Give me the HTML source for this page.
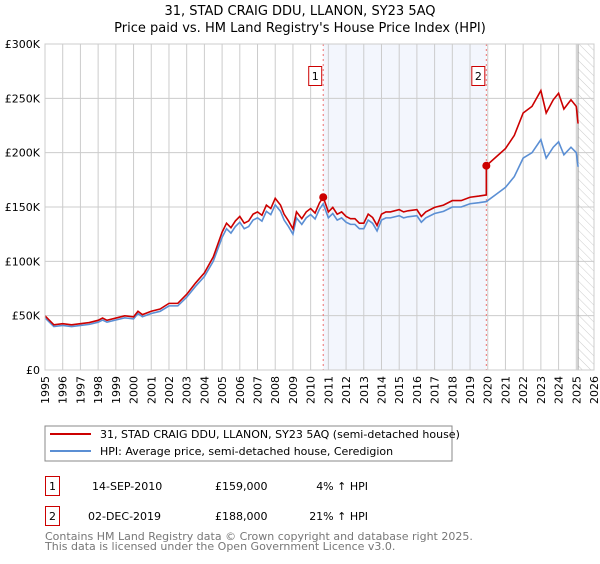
<!DOCTYPE html>
<html><head><meta charset="utf-8"><style>
body{margin:0;background:#fff;font-family:"DejaVu Sans","Liberation Sans",sans-serif;}
svg text{font-family:"DejaVu Sans","Liberation Sans",sans-serif;}
</style></head><body>
<svg id="c" width="600" height="560" viewBox="0 0 600 560" xmlns="http://www.w3.org/2000/svg">
<defs><pattern id="hatch" width="6" height="6" patternUnits="userSpaceOnUse" patternTransform="rotate(-45)"><line x1="0" y1="0" x2="0" y2="6" stroke="#ccc" stroke-width="1"/></pattern></defs>
<text x="300" y="15" text-anchor="middle" font-size="13">31, STAD CRAIG DDU, LLANON, SY23 5AQ</text>
<text x="300" y="32" text-anchor="middle" font-size="13">Price paid vs. HM Land Registry's House Price Index (HPI)</text>
<g id="grid"></g><g id="marks"></g><g id="axes"></g>
<rect x="45" y="426" width="407" height="35" fill="#fff" stroke="#888"/>
<line x1="50" y1="434" x2="91" y2="434" stroke="#cc0000" stroke-width="2"/>
<text x="100" y="438" font-size="11">31, STAD CRAIG DDU, LLANON, SY23 5AQ (semi-detached house)</text>
<line x1="50" y1="451" x2="91" y2="451" stroke="#5b8fd4" stroke-width="2"/>
<text x="100" y="455" font-size="11">HPI: Average price, semi-detached house, Ceredigion</text>
<g font-size="11">
<rect x="45.5" y="476.5" width="14" height="19" fill="none" stroke="#cc0000"/>
<text x="52.5" y="490" text-anchor="middle">1</text>
<text x="92" y="490">14-SEP-2010</text>
<text x="215" y="490">£159,000</text>
<text x="368" y="490" text-anchor="end">4% ↑ HPI</text>
<rect x="45.5" y="506.5" width="14" height="19" fill="none" stroke="#cc0000"/>
<text x="52.5" y="520" text-anchor="middle">2</text>
<text x="88" y="520">02-DEC-2019</text>
<text x="215" y="520">£188,000</text>
<text x="368" y="520" text-anchor="end">21% ↑ HPI</text>
</g>
<text x="45" y="540" font-size="11" fill="#777">Contains HM Land Registry data © Crown copyright and database right 2025.</text>
<text x="45" y="550" font-size="11" fill="#777">This data is licensed under the Open Government Licence v3.0.</text>
</svg>
<script>
const hpiYears=[1995,1995.5,1996,1996.5,1997,1997.5,1998,1998.25,1998.5,1999,1999.5,2000,2000.25,2000.5,2001,2001.5,2002,2002.5,2003,2003.5,2004,2004.5,2005,2005.25,2005.5,2005.75,2006,2006.25,2006.5,2006.75,2007,2007.25,2007.5,2007.75,2008,2008.3,2008.5,2008.75,2009,2009.2,2009.5,2009.75,2010,2010.25,2010.5,2010.71,2011,2011.25,2011.5,2011.75,2012,2012.25,2012.5,2012.75,2013,2013.25,2013.5,2013.75,2014,2014.25,2014.5,2015,2015.25,2015.5,2016,2016.25,2016.5,2017,2017.5,2018,2018.5,2019,2019.5,2019.92,2020.5,2021,2021.5,2022,2022.5,2023,2023.3,2023.7,2024,2024.3,2024.7,2025,2025.1];
const hpiValues=[48,40,41,40,41,42,44,46,44,46,48,47,52,49,52,54,59,59,67,77,86,100,122,130,126,132,136,130,132,138,140,137,146,143,152,146,138,132,125,140,134,140,143,139,148,153,140,144,138,140,136,134,134,130,130,138,135,128,138,140,140,142,140,141,142,136,140,144,146,150,150,153,154,155,162,168,178,195,200,212,195,205,210,198,205,200,187];
const saleYears=[2010.71,2019.92];
const salePrices=[159,188];
const yTicks=[0,50,100,150,200,250,300];
const yTickLabels=["£0","£50K","£100K","£150K","£200K","£250K","£300K"];
const NS="http://www.w3.org/2000/svg";
const X0=45,X1=594,Y0=370,Y1=44;
const xs=y=>X0+(y-1995)*(X1-X0)/31;
const ys=v=>Y0-v*(Y0-Y1)/300;
function mk(tag,attrs,parent){const e=document.createElementNS(NS,tag);for(const k in attrs)e.setAttribute(k,attrs[k]);parent.appendChild(e);return e;}
const grid=document.getElementById('grid'),marks=document.getElementById('marks'),axes=document.getElementById('axes');
const sh=mk('rect',{x:xs(saleYears[0]),y:Y1,width:xs(saleYears[1])-xs(saleYears[0]),height:Y0-Y1,fill:'#eef2fc',opacity:0.7},grid);


const hatch=mk('rect',{x:xs(2025.1),y:Y1,width:X1-xs(2025.1),height:Y0-Y1,fill:'url(#hatch)'},grid);


for(let yr=1995;yr<=2026;yr++){
 const l=mk('line',{x1:xs(yr),x2:xs(yr),y1:Y1,y2:Y0,stroke:'#ccc','stroke-width':1},grid);
 
 
 const t=mk('text',{x:0,y:0,'font-size':11,'text-anchor':'end',transform:`translate(${xs(yr)+4},376) rotate(-90)`},axes);
 t.textContent=yr;
 
 
}
yTicks.forEach((v,i)=>{
 const l=mk('line',{x1:X0,x2:X1,y1:ys(v),y2:ys(v),stroke:'#ccc','stroke-width':1},grid);
 
 
 const t=mk('text',{x:40,y:ys(v)+4,'font-size':11,'text-anchor':'end'},axes);
 t.textContent=yTickLabels[i];
 
 
});
const nl=mk('line',{x1:xs(2025.1),x2:xs(2025.1),y1:Y1,y2:Y0,stroke:'#999','stroke-width':1},grid);


saleYears.forEach((s,i)=>{
 const l=mk('line',{x1:xs(s),x2:xs(s),y1:Y1,y2:Y0,stroke:'#f07070','stroke-width':1,'stroke-dasharray':'2,3'},grid);
 
 
});
function hpiAt(t){for(let i=1;i<hpiYears.length;i++){if(t<=hpiYears[i]){const f=(t-hpiYears[i-1])/(hpiYears[i]-hpiYears[i-1]);return hpiValues[i-1]+f*(hpiValues[i]-hpiValues[i-1]);}}return hpiValues[hpiValues.length-1];}
const blue=mk('polyline',{points:hpiYears.map((y,i)=>xs(y)+','+ys(hpiValues[i])).join(' '),fill:'none',stroke:'#5b8fd4','stroke-width':1.6},marks);


const r1=salePrices[0]/hpiAt(saleYears[0]),r2=salePrices[1]/hpiAt(saleYears[1]);
const pts=[];
hpiYears.forEach((y,i)=>{if(y<saleYears[1]){pts.push([y,hpiValues[i]*r1]);}});
pts.push([saleYears[1],hpiAt(saleYears[1])*r1]);
pts.push([saleYears[1],salePrices[1]]);
hpiYears.forEach((y,i)=>{if(y>saleYears[1])pts.push([y,hpiValues[i]*r2]);});
const red=mk('polyline',{points:pts.map(p=>xs(p[0])+','+ys(p[1])).join(' '),fill:'none',stroke:'#cc0000','stroke-width':1.6},marks);


saleYears.forEach((s,i)=>{
 const c=mk('circle',{cx:xs(s),cy:ys(salePrices[i]),r:4,fill:'#cc0000'},marks);
 
 
 const b=mk('rect',{x:xs(s)-14.5,y:66.5,width:13,height:19,fill:'#fff',stroke:'#cc0000'},marks);
 
 
 const t=mk('text',{x:xs(s)-8,y:80,'font-size':11,'text-anchor':'middle'},marks);
 t.textContent=String(i+1);
 
 
});
const fr=mk('rect',{x:X0,y:Y1,width:X1-X0,height:Y0-Y1,fill:'none',stroke:'#ccc'},axes);


</script>
</body></html>
